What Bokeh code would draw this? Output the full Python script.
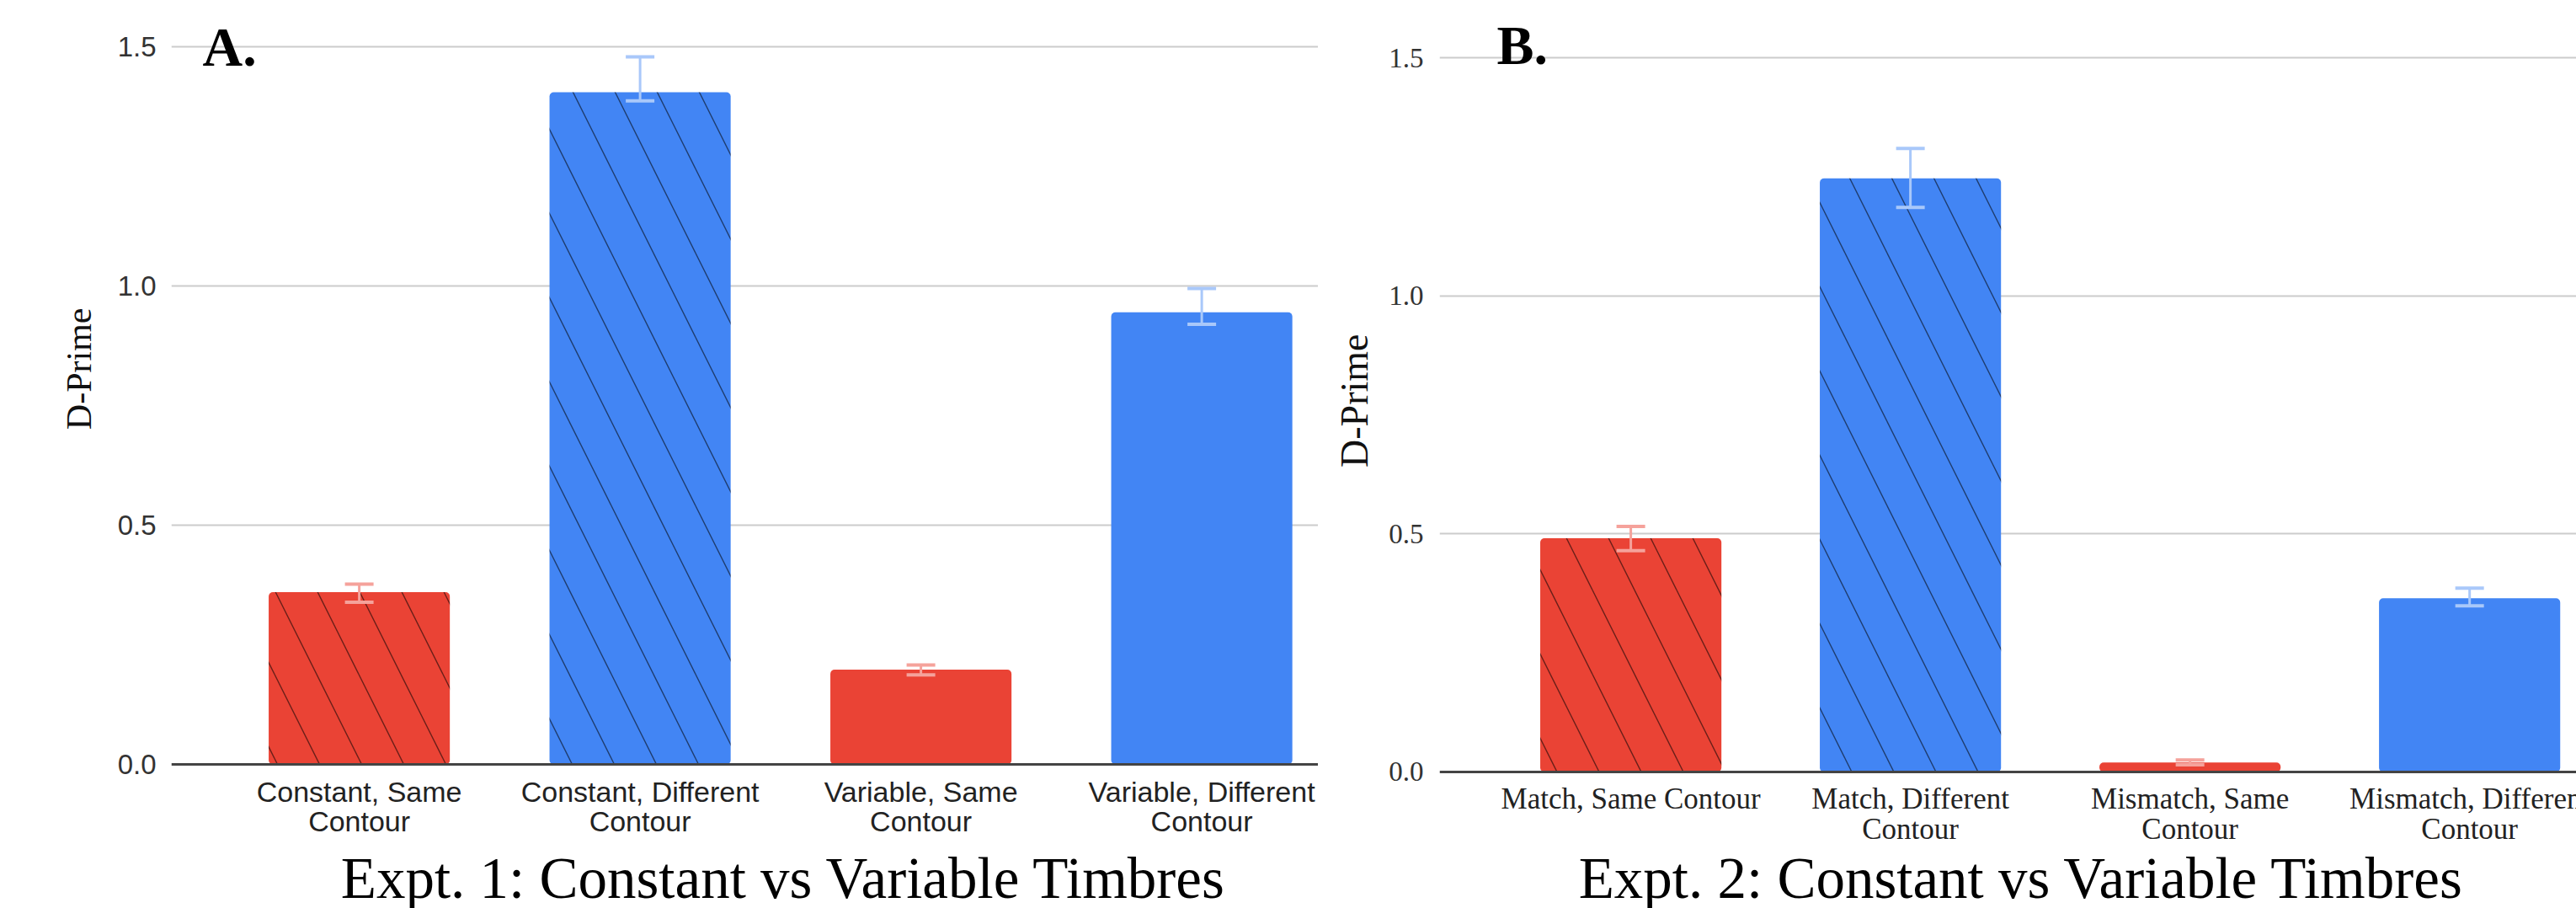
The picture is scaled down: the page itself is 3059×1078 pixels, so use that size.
from bokeh.plotting import figure
from bokeh.models import ColumnDataSource, FixedTicker, Range1d, Label, Span, Title
from bokeh.core.properties import value
from bokeh.layouts import row
from bokeh.embed import file_html
from bokeh.resources import INLINE

# ---------------- data ----------------
cats_1 = ["Constant, Same\nContour", "Constant, Different\nContour",
          "Variable, Same\nContour", "Variable, Different\nContour"]
dprime_1 = [0.360, 1.405, 0.198, 0.945]
err_lo_1 = [0.339, 1.387, 0.187, 0.920]
err_hi_1 = [0.377, 1.479, 0.208, 0.995]

cats_2 = ["Match, Same Contour", "Match, Different\nContour",
          "Mismatch, Same\nContour", "Mismatch, Different\nContour"]
dprime_2 = [0.491, 1.247, 0.020, 0.365]
err_lo_2 = [0.465, 1.186, 0.015, 0.349]
err_hi_2 = [0.516, 1.310, 0.025, 0.386]

contour = ["same", "different", "same", "different"]
timbre_match = [True, True, False, False]   # hatched bars

y_ticks = [0.0, 0.5, 1.0, 1.5]
y_tick_labels = ["0.0", "0.5", "1.0", "1.5"]
titles = ["Expt. 1: Constant vs Variable Timbres", "Expt. 2: Constant vs Variable Timbres"]
tags = ["A.", "B."]
y_label = "D-Prime"

# ---------------- styles ----------------
RED, BLUE = "#EA4335", "#4285F4"
RED_ERR, BLUE_ERR = "#F5A29B", "#A9C8FA"
H = 1078


def make_panel(cats, vals, lo, hi, title, tag, tick_font, tick_size, cat_size,
               width, b_left, b_right, x_rng, y_rng, bar_w,
               ylab_size, ylab_standoff, ylab_offset, tick_standoff,
               tag_pos, title_pos, cat_y):
    xs = list(range(len(cats)))
    colors = [RED if c == "same" else BLUE for c in contour]
    ecolors = [RED_ERR if c == "same" else BLUE_ERR for c in contour]
    hatch = ["left_diagonal_line" if m else " " for m in timbre_match]
    line1 = [c.split("\n")[0] for c in cats]
    line2 = [c.split("\n")[1] if "\n" in c else "" for c in cats]
    src = ColumnDataSource(dict(x=xs, top=vals, lo=lo, hi=hi, color=colors,
                                ecolor=ecolors, hatch=hatch, l1=line1, l2=line2))

    p = figure(width=width, height=H, title=None, toolbar_location=None,
               output_backend="svg", x_range=Range1d(*x_rng),
               y_range=Range1d(*y_rng),
               min_border_left=b_left, min_border_right=b_right,
               min_border_top=0, min_border_bottom=0)
    p.outline_line_color = None
    p.background_fill_color = "white"
    p.border_fill_color = "white"
    p.xaxis.visible = False
    p.xgrid.visible = False
    p.ygrid.ticker = FixedTicker(ticks=y_ticks[1:])
    p.ygrid.grid_line_color = "#cccccc"
    p.ygrid.grid_line_width = 2

    p.vbar(x="x", top="top", width=bar_w, source=src, fill_color="color",
           line_color=None, hatch_pattern="hatch", hatch_color="black",
           hatch_alpha=0.55, hatch_weight=1.4, hatch_scale=100, border_radius=5)

    p.add_layout(Span(location=0, dimension="width", line_color="#444444",
                      line_width=3))

    p.segment(x0="x", y0="lo", x1="x", y1="hi", source=src,
              line_color="ecolor", line_width=3)
    p.scatter(x="x", y="hi", source=src, marker="dash", size=34,
              line_color="ecolor", line_width=4)
    p.scatter(x="x", y="lo", source=src, marker="dash", size=34,
              line_color="ecolor", line_width=4)

    # category labels (two lines) under the zero line
    p.text(x="x", y=cat_y[0], text="l1", source=src, text_font=value(tick_font),
           text_font_size=cat_size, text_align="center", text_baseline="middle",
           text_color="#222222")
    p.text(x="x", y=cat_y[1], text="l2", source=src, text_font=value(tick_font),
           text_font_size=cat_size, text_align="center", text_baseline="middle",
           text_color="#222222")

    ya = p.yaxis[0]
    ya.ticker = FixedTicker(ticks=y_ticks)
    ya.major_label_overrides = {t: l for t, l in zip(y_ticks, y_tick_labels)}
    ya.axis_line_color = None
    ya.major_tick_line_color = None
    ya.minor_tick_line_color = None
    ya.major_tick_out = 0
    ya.major_tick_in = 0
    ya.major_label_text_font = tick_font
    ya.major_label_text_font_size = tick_size
    ya.major_label_text_color = "#333333"
    ya.major_label_standoff = tick_standoff

    p.add_layout(Title(text=y_label, align="right", offset=ylab_offset,
                       standoff=ylab_standoff, text_font="Liberation Serif",
                       text_font_size=ylab_size, text_font_style="normal",
                       text_color="#111111"), "left")

    p.add_layout(Label(x=tag_pos[0], y=tag_pos[1], text=tag,
                       text_font="Liberation Serif", text_font_style="bold",
                       text_font_size="66px", text_align="left",
                       text_baseline="middle", text_color="black"))
    p.add_layout(Label(x=title_pos[0], y=title_pos[1], text=title,
                       text_font="Liberation Serif", text_font_size="69px",
                       text_align="center", text_baseline="middle",
                       text_color="black"))
    return p


p1 = make_panel(cats_1, dprime_1, err_lo_1, err_hi_1, titles[0], tags[0],
                "Liberation Sans", "33px", "34px",
                width=1565, b_left=203, b_right=0,
                x_rng=(-0.669, 3.415), y_rng=(-0.301, 1.597), bar_w=0.645,
                ylab_size="42px", ylab_standoff=40, ylab_offset=365,
                tick_standoff=18,
                tag_pos=(-0.558, 1.500), title_pos=(1.511, -0.2386),
                cat_y=(-0.0563, -0.118))

p2 = make_panel(cats_2, dprime_2, err_lo_2, err_hi_2, titles[1], tags[1],
                "Liberation Serif", "33px", "35px",
                width=3059 - 1565, b_left=1709 - 1565, b_right=0,
                x_rng=(-0.684, 3.382), y_rng=(-0.2867, 1.621), bar_w=0.648,
                ylab_size="46px", ylab_standoff=26, ylab_offset=396,
                tick_standoff=19,
                tag_pos=(-0.479, 1.528), title_pos=(1.397, -0.2239),
                cat_y=(-0.0575, -0.1195))

layout = row(p1, p2)
open("out.html", "w").write(file_html(layout, INLINE))
